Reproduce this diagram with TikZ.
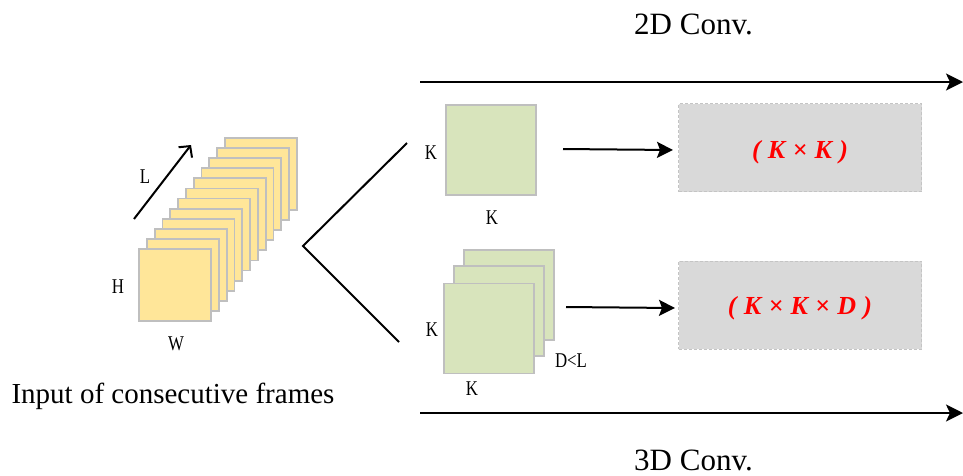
\documentclass[tikz,border=0pt]{standalone}
\usepackage{fontspec}
\setmainfont{Liberation Serif}
\newfontfamily\dimfont[FakeStretch=0.8]{Liberation Serif}
\usetikzlibrary{arrows.meta}

\definecolor{frameyellow}{HTML}{FFE699}
\definecolor{kernelgreen}{HTML}{D8E4BC}
\definecolor{edgegray}{HTML}{BFBFBF}
\definecolor{boxgray}{HTML}{D9D9D9}
\definecolor{boxedge}{HTML}{C4C4C4}

\begin{document}
\begin{tikzpicture}[x=1pt,y=-1pt,
  framesq/.style={draw=edgegray, fill=frameyellow, line width=1.8pt,
    minimum width=72pt, minimum height=72pt, inner sep=0pt},
  kernelsq/.style={draw=edgegray, fill=kernelgreen, line width=1.8pt,
    minimum width=90pt, minimum height=90pt, inner sep=0pt},
  resultbox/.style={draw=boxedge, fill=boxgray, densely dashed, line width=0.8pt,
    minimum width=243pt, minimum height=88pt, inner sep=0pt},
  dimlabel/.style={font=\dimfont\fontsize{21}{24}\selectfont, inner sep=0pt},
  caption/.style={font=\fontsize{31}{36}\selectfont, inner sep=0pt, anchor=base},
  sizetext/.style={font=\fontsize{26}{30}\selectfont\bfseries\itshape, text=red, inner sep=0pt},
  bigarrow/.style={line width=2pt, -{Stealth[length=17pt,width=17pt,inset=4pt]}},
  midarrow/.style={line width=2pt, -{Stealth[length=16pt,width=16pt,inset=3pt]}},
]
\useasboundingbox (0,0) rectangle (963,475);

% stack of input frames, drawn from back to front
\foreach \i in {11,10,...,0}{
  \node[framesq] (frame\i) at ({175+7.82*\i},{285-10.1*\i}) {};
}
\node[dimlabel] (hlab) at (118,287) {H};
\node[dimlabel] (wlab) at (176,344) {W};
\node[dimlabel] (llab) at (145,177) {L};
\coordinate (ltail) at (134,219);
\coordinate (lhead) at (191,145);
\draw[line width=2pt, -{Straight Barb[length=8pt,width=17pt]}] (ltail) -- (lhead);
\node[caption, font=\fontsize{29}{34}\selectfont] (inputcap) at (173,403) {Input of consecutive frames};

% branching into the two kinds of convolution
\coordinate (forkup) at (407,143);
\coordinate (forkmid) at (303,246);
\coordinate (forkdown) at (399,342);
\draw[line width=2pt] (forkup) -- (forkmid) -- (forkdown);

% 2D kernel
\node[kernelsq] (k2d) at (491,150) {};
\node[dimlabel] (k2dh) at (431,153) {K};
\node[dimlabel] (k2dw) at (492,218) {K};

% 3D kernel
\node[kernelsq] (k3dback) at (509,295) {};
\node[kernelsq] (k3dmid) at (499,311) {};
\node[kernelsq] (k3dfront) at (489,328.5) {};
\node[dimlabel] (k3dh) at (432,330) {K};
\node[dimlabel] (k3dw) at (472,389) {K};
\node[dimlabel] (k3dd) at (571,361) {D<L};

% kernel sizes
\node[resultbox] (res2d) at (800,147.5) {};
\node[sizetext] (size2d) at (800,152) {(\hspace{0.28em}K\hspace{0.28em}×\hspace{0.28em}K\hspace{0.28em})};
\node[resultbox] (res3d) at (800,305) {};
\node[sizetext] (size3d) at (800,308) {(\hspace{0.28em}K\hspace{0.28em}×\hspace{0.28em}K\hspace{0.28em}×\hspace{0.28em}D\hspace{0.28em})};

\coordinate (a2start) at (563,149);
\coordinate (a2end) at (673,150);
\draw[midarrow] (a2start) -- (a2end);
\coordinate (a3start) at (566,307);
\coordinate (a3end) at (675,308);
\draw[midarrow] (a3start) -- (a3end);

% long process arrows with their titles
\coordinate (topstart) at (420,82);
\coordinate (topend) at (963,82);
\draw[bigarrow] (topstart) -- (topend);
\node[caption] (conv2d) at (693.5,34) {2D Conv.};

\coordinate (botstart) at (420,413);
\coordinate (botend) at (963,413);
\draw[bigarrow] (botstart) -- (botend);
\node[caption] (conv3d) at (693.5,470) {3D Conv.};
\end{tikzpicture}
\end{document}
